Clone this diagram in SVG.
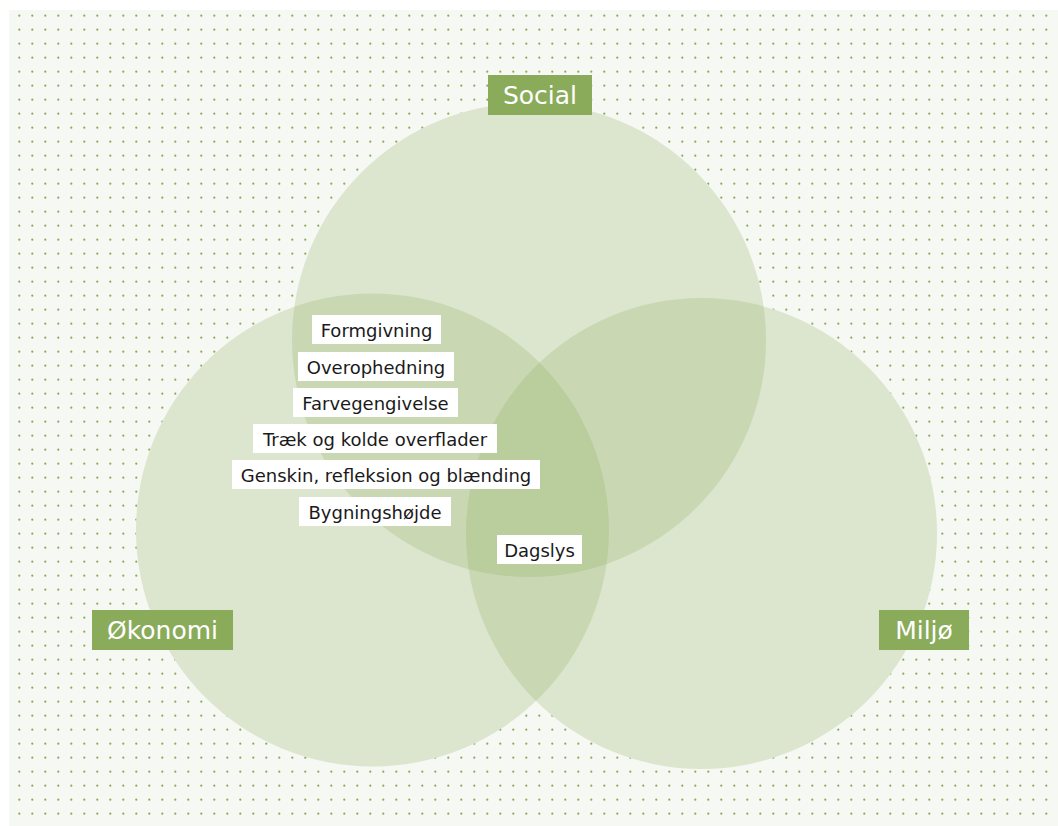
<svg xmlns="http://www.w3.org/2000/svg" width="1058" height="826" viewBox="0 0 1058 826">
  <defs>
    <pattern id="dots" x="13" y="9" width="13" height="14" patternUnits="userSpaceOnUse">
      <circle cx="6.3" cy="6.7" r="1.1" fill="#8aab5a"/>
    </pattern>
    <style>
      .base { fill: #f6f8f3; }
      .circ { fill: #8fb05f; fill-opacity: 0.25; }
      .lbl { fill: #8aab5a; }
      .lbltxt { font-family: "DejaVu Sans", sans-serif; font-size: 25px; fill: #ffffff; text-anchor: middle; }
      .box { fill: #ffffff; }
      .boxtxt { font-family: "DejaVu Sans", sans-serif; font-size: 18px; fill: #1a1a1a; text-anchor: middle; }
    </style>
  </defs>
  <rect x="0" y="0" width="1058" height="826" fill="#ffffff"/>
  <rect x="9" y="10" width="1049" height="816" class="base"/>
  <rect x="9" y="10" width="1049" height="816" fill="url(#dots)"/>

  <g id="circles">
    <circle cx="529" cy="340" r="237" class="base"/>
    <circle cx="372.5" cy="530" r="236.5" class="base"/>
    <circle cx="701.5" cy="533.5" r="235.5" class="base"/>
    <circle id="circle-social" cx="529" cy="340" r="237" class="circ"/>
    <circle id="circle-okonomi" cx="372.5" cy="530" r="236.5" class="circ"/>
    <circle id="circle-miljo" cx="701.5" cy="533.5" r="235.5" class="circ"/>
  </g>

  <g id="connectors"></g>

  <g id="label-social">
    <rect x="488" y="75" width="104" height="40" class="lbl"/>
    <text x="540" y="104" class="lbltxt">Social</text>
  </g>
  <g id="label-okonomi">
    <rect x="92" y="610" width="141" height="40" class="lbl"/>
    <text x="162.5" y="639" class="lbltxt">Økonomi</text>
  </g>
  <g id="label-miljo">
    <rect x="879" y="610" width="90" height="40" class="lbl"/>
    <text x="924" y="639" class="lbltxt">Miljø</text>
  </g>

  <g id="item-formgivning">
    <rect x="312" y="315" width="129" height="29" class="box"/>
    <text x="376.5" y="337" class="boxtxt">Formgivning</text>
  </g>
  <g id="item-overophedning">
    <rect x="298" y="352" width="156" height="29" class="box"/>
    <text x="376" y="374" class="boxtxt">Overophedning</text>
  </g>
  <g id="item-farvegengivelse">
    <rect x="293" y="388" width="165" height="29" class="box"/>
    <text x="375.5" y="410" class="boxtxt">Farvegengivelse</text>
  </g>
  <g id="item-traek">
    <rect x="253" y="424" width="244" height="29" class="box"/>
    <text x="375" y="446" class="boxtxt">Træk og kolde overflader</text>
  </g>
  <g id="item-genskin">
    <rect x="232" y="460" width="308" height="29" class="box"/>
    <text x="386" y="482" class="boxtxt">Genskin, refleksion og blænding</text>
  </g>
  <g id="item-bygningshojde">
    <rect x="299" y="497" width="152" height="29" class="box"/>
    <text x="375" y="519" class="boxtxt">Bygningshøjde</text>
  </g>
  <g id="item-dagslys">
    <rect x="497" y="535" width="85" height="29" class="box"/>
    <text x="539.5" y="557" class="boxtxt">Dagslys</text>
  </g>
</svg>
